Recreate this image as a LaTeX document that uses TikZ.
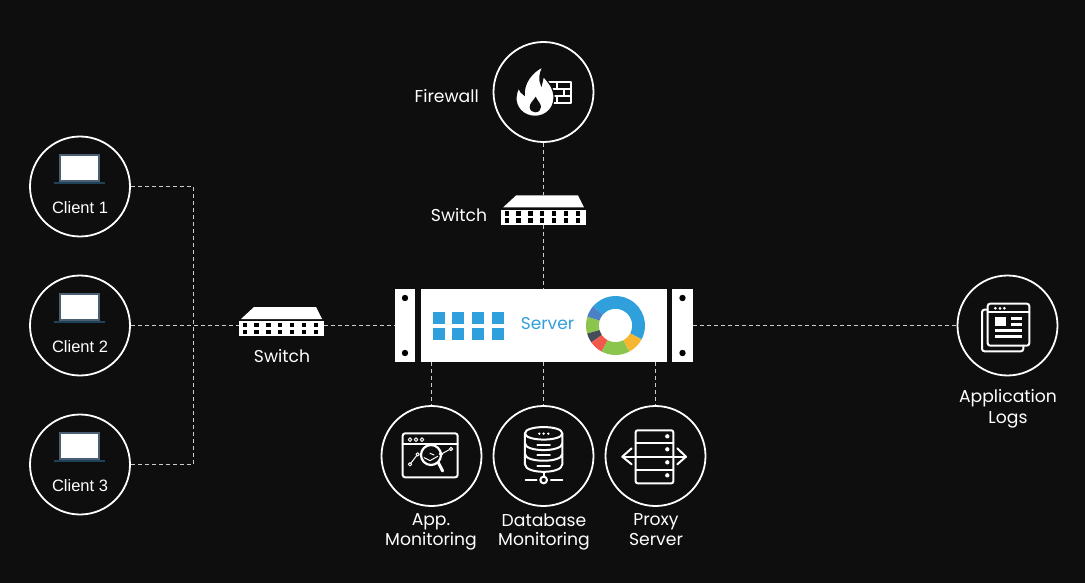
\documentclass[tikz,border=0pt]{standalone}
\usepackage{fontspec}
\setmainfont{Poppins}
\newfontfamily\arialf{Liberation Sans}
\definecolor{bgc}{HTML}{0E0E0E}
\definecolor{linkc}{HTML}{CCCCCC}
\definecolor{sblue}{HTML}{2FA0DC}
\definecolor{dblue}{HTML}{4A80C4}
\definecolor{sgreen}{HTML}{8CC54E}
\definecolor{syellow}{HTML}{F5B731}
\definecolor{sred}{HTML}{F2584C}
\definecolor{sdark}{HTML}{454E58}
\definecolor{lapedge}{HTML}{4A6072}
\definecolor{lapbase}{HTML}{1E4258}
\tikzset{
  x=1pt,y=-1pt,
  ring/.style={circle,draw=white,line width=1.8pt,minimum size=100pt,inner sep=0pt,fill=bgc},
  link/.style={draw=linkc,line width=1.05pt,dash pattern=on 4pt off 3pt},
  lbl/.style={text=white,font=\fontsize{17.2}{20}\selectfont,align=center,inner sep=0pt},
  clbl/.style={text=white,font=\arialf\fontsize{16.5}{20}\selectfont,inner sep=0pt},
  ico/.style={draw=white,line width=2pt,line cap=round,line join=round},
  icofine/.style={draw=white,line width=1.3pt,line cap=round,line join=round},
  ear/.style={fill=white,draw=none,minimum height=73pt,inner sep=0pt},
  swbox/.style={minimum width=85pt,minimum height=29pt,inner sep=0pt,draw=none},
  sq/.style={fill=sblue,draw=none},
  laptop/.pic={
    \fill[white,draw=lapedge,line width=2pt] (-20,-31.5) rectangle (19,-5.5);
    \fill[lapbase] (-26,-4.5) rectangle (25,-2.5);
  },
  switchicon/.pic={
    \fill[white] (-27.5,-14.5) -- (34.5,-14.5) -- (40.5,-2.5) -- (-40.5,-2.5) -- cycle;
    \fill[white] (-42.5,-0.5) rectangle (42.5,14.5);
    \foreach \i in {0,...,6}{
      \fill[black] ({-36.8+11.85*\i-2.1},1.4) rectangle ++(4.2,4.2);
      \fill[black] ({-36.8+11.85*\i-2.1},8.4) rectangle ++(4.2,4.2);
    }
  },
}
\begin{document}
\begin{tikzpicture}
\useasboundingbox (0,0) rectangle (1085,583);
\fill[bgc] (0,0) rectangle (1085,583);

% nodes
\node[ring] (c1) at (80,186.5) {};
\node[ring] (c2) at (80,325.5) {};
\node[ring] (c3) at (80,464.5) {};
\node[ring] (fw) at (543.5,92) {};
\node[ring] (logs) at (1007.5,325.5) {};
\node[ring] (app) at (431.5,456) {};
\node[ring] (db) at (543.5,456) {};
\node[ring] (proxy) at (655.5,456) {};
\node[swbox] (sw1) at (281.5,321.5) {};
\node[swbox] (sw2) at (543.5,210) {};
\node[ear,minimum width=20pt] (earl) at (405,325.5) {};
\node[ear,minimum width=21pt] (earr) at (682.5,325.5) {};
\node[fill=white,minimum width=246pt,minimum height=73pt,inner sep=0pt] (srv) at (544,325.5) {};
\coordinate (j1) at (193.5,186.5);
\coordinate (j3) at (193.5,464.5);

% connectors
\draw[link] (c1.east) -- (j1) -- (j3) -- (c3.east);
\draw[link] (c2.east) -- (c2 -| sw1.west);
\draw[link] (c2 -| sw1.east) -- (c2 -| earl.west);
\draw[link] (fw.south) -- (fw |- sw2.north);
\draw[link] (fw |- sw2.south) -- (fw |- srv.north);
\draw[link] (earr.east |- logs) -- (logs.west);
\draw[link] (app.north |- srv.south) -- (app.north);
\draw[link] (db.north |- srv.south) -- (db.north);
\draw[link] (proxy.north |- srv.south) -- (proxy.north);

% clients
\foreach \n in {c1,c2,c3}{ \pic at (\n) {laptop}; }
\node[clbl] at (80,207.5) {Client 1};
\node[clbl] at (80,346.5) {Client 2};
\node[clbl] at (80,485.5) {Client 3};

% switches
\pic at (sw1) {switchicon};
\pic at (sw2) {switchicon};
\node[lbl] at (282,356) {Switch};
\node[lbl] at (459,215) {Switch};

% server
\foreach \p in {earl,earr}{
  \fill[black] ([yshift=27.5pt]\p.center) circle (3.2);
  \fill[black] ([yshift=-27.5pt]\p.center) circle (3.2);
}
\foreach \x in {433,452,471.5,492}{
  \fill[sq] (\x,312) rectangle ++(12,12);
  \fill[sq] (\x,328) rectangle ++(12,12);
}
\node[text=sblue,font=\fontsize{17}{20}\selectfont,inner sep=0pt] at (547.5,324) {Server};
\begin{scope}[shift={(615.5,325.5)},y=1pt]
  \def\seg#1#2#3{\fill[#3] (#1:29.5) arc[start angle=#1,end angle=#2,radius=29.5] -- (#2:16.7) arc[start angle=#2,end angle=#1,radius=16.7] -- cycle;}
  \seg{-28}{140}{sblue}
  \seg{140}{163}{dblue}
  \seg{163}{196}{sgreen}
  \seg{196}{215}{sdark}
  \seg{215}{242}{sred}
  \seg{242}{298}{sgreen}
  \seg{298}{332}{syellow}
\end{scope}

% firewall icon
\begin{scope}[shift={(490,35)},x=0.3333pt,y=-0.3333pt]
  \draw[ico,line cap=butt,line width=1.7pt] (165,141) rectangle (242,203);
  \draw[ico,line cap=butt,line width=1.7pt] (165,161) -- (242,161) (165,182) -- (242,182);
  \draw[ico,line cap=butt,line width=1.7pt] (200,141) -- (200,161) (222,161) -- (222,182) (200,182) -- (200,203);
  \fill[white,draw=bgc,line width=1.2pt] (135,244)
    .. controls (100,244) and (76,218) .. (78,186)
    .. controls (79,175) and (82,166) .. (87,156)
    .. controls (89,168) and (95,176) .. (103,180)
    .. controls (100,145) and (125,110) .. (161,94)
    .. controls (147,115) and (147,135) .. (154,150)
    .. controls (157,140) and (158,132) .. (160,124)
    .. controls (180,145) and (193,165) .. (192,190)
    .. controls (191,220) and (168,244) .. (135,244) -- cycle;
  \fill[bgc] (137,185)
    .. controls (130,197) and (118,205) .. (119,217)
    .. controls (120,227) and (128,232) .. (136,232)
    .. controls (146,232) and (153,225) .. (153,216)
    .. controls (153,205) and (142,197) .. (137,185) -- cycle;
\end{scope}
\node[lbl,anchor=east] at (479,96) {Firewall};

% app monitoring icon
\begin{scope}[shift={(370,395)},x=0.3333pt,y=-0.3333pt]
  \draw[ico,rounded corners=2.5pt] (98,115) rectangle (263,247);
  \draw[ico] (98,147) -- (263,147);
  \foreach \x in {120,138,156}{\draw[icofine,line width=1pt] (\x,134) circle (5.5);}
  \draw[icofine,line width=1pt] (120,208) circle (5) (143,178) circle (5) (213,177) circle (5) (243,162) circle (5);
  \draw[icofine,line width=1pt] (123,204) -- (140,182) (218,175) -- (238,164);
  \draw[ico,line width=2.2pt] (183,180) circle (30);
  \draw[ico,line width=3pt] (205,203) -- (218,228);
  \draw[icofine,line width=1pt] (162,188) -- (180,197) -- (203,184) (180,175) -- (192,180);
\end{scope}
\node[lbl] at (431,532) {App.\\[-0.6pt]Monitoring};

% database icon
\begin{scope}[shift={(370,395)},x=0.3333pt,y=-0.3333pt]
  \draw[ico] (465,115) .. controls (465,90) and (577,90) .. (577,115)
     -- (577,208) .. controls (577,238) and (465,238) .. (465,208) -- cycle;
  \draw[ico] (465,115) .. controls (465,140) and (577,140) .. (577,115);
  \draw[ico] (465,145) .. controls (465,172) and (577,172) .. (577,145);
  \draw[ico] (465,177) .. controls (465,204) and (577,204) .. (577,177);
  \foreach \x in {508,521,535}{\fill[white] (\x,116) circle (4);}
  \draw[ico] (502,150) -- (540,150) (502,181) -- (540,181) (502,213) -- (540,213);
  \draw[ico] (521,232) -- (521,245) (467,255) -- (500,255) (543,255) -- (577,255);
  \draw[ico] (521,255) circle (10);
\end{scope}
\node[lbl] at (544,532) {Database\\[-0.6pt]Monitoring};

% proxy icon
\begin{scope}[shift={(370,395)},x=0.3333pt,y=-0.3333pt]
  \draw[ico,rounded corners=2pt] (797,106) rectangle (910,265);
  \draw[ico] (797,145) -- (910,145) (797,225) -- (910,225) (757,185) -- (948,185);
  \draw[ico] (785,160) -- (757,185) -- (785,208) (922,160) -- (948,185) -- (922,208);
  \foreach \y in {124,163,202,241}{\fill[white] (892,\y) circle (6.5);}
\end{scope}
\node[lbl] at (656,529.5) {Proxy\\[-0.6pt]Server};

% logs icon
\begin{scope}[shift={(950,270)},x=0.3333pt,y=-0.3333pt]
  \draw[ico,rounded corners=2.5pt] (113,101) rectangle (238,227);
  \draw[ico] (113,127) -- (238,127);
  \foreach \x in {136,150,163}{\fill[white] (\x,115) circle (4.5);}
  \fill[white] (136,142) rectangle (168,168);
  \draw[ico,line width=2.4pt,line cap=butt] (183,146) -- (215,146) (183,163) -- (215,163) (136,182) -- (215,182) (136,199) -- (215,199);
  \draw[ico,rounded corners=2.5pt] (113,119) -- (96,119) -- (96,244) -- (220,244) -- (220,227);
\end{scope}
\node[lbl] at (1008,408.5) {Application\\[1pt]Logs};
\end{tikzpicture}
\end{document}
